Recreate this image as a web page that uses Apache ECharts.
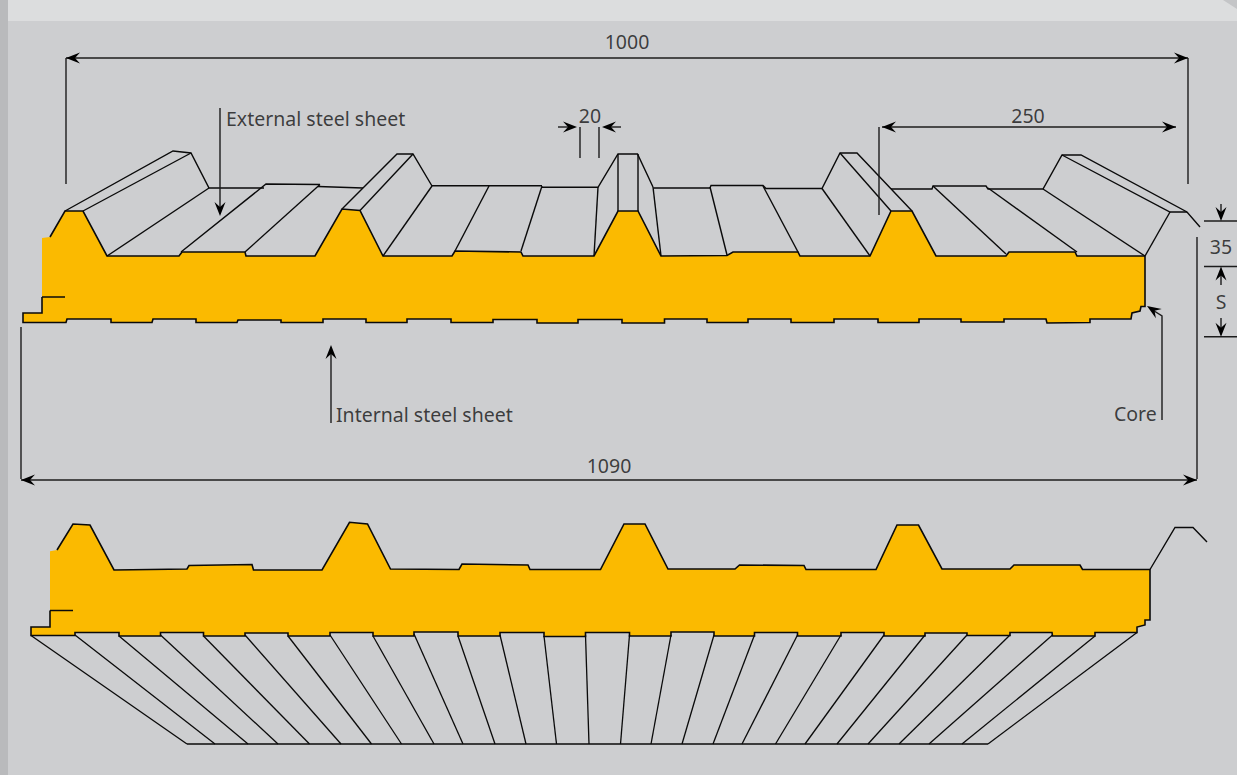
<!DOCTYPE html>
<html>
<head>
<meta charset="utf-8">
<style>html,body{margin:0;padding:0;background:#cdced0}#c{width:1237px;height:775px}</style>
<script src="https://cdn.jsdelivr.net/npm/echarts@6/dist/echarts.min.js"></script>
</head>
<body>
<div id="c"></div>
<script>
// ---- Upper panel: core section ----
const upperCoreTop = [[42,238],[50,237],[65,211],[83,211],[107,256],[179,256],[182,252],[245,252],[246,256],[315,256],[342,209],[360,210.5],[383,256],[452,256],[455,251],[521,252],[523,256],[594,256],[618,211],[638,211],[661,256],[727,255.5],[733,252],[798,252],[800,256],[870,256],[891,211],[912,211],[936,256],[1006,256],[1009,252],[1075,252],[1077,256],[1145,256]];
const upperCoreRight = [[1145,306.5],[1141,306.5],[1140,311],[1132,313],[1131,319]];
const upperCoreBottom = [[23,322.5],[66,322.5],[67,319],[111,319],[111,322.5],[152,322.5],[153,319],[196,319],[196,322.5],[237,322.5],[238,320],[281,320],[281,322.5],[323,322.5],[323,319],[366,319],[366,322.5],[407,322.5],[407,319],[451,319],[451,322.5],[493,322.5],[493,319.5],[537,319.5],[537,323],[578,323],[578,319.5],[622,319.5],[622,323],[664.5,323],[664.5,319],[707,319],[707,322.5],[748,322.5],[748,319],[791,319],[791,322.5],[834,322.5],[834,319],[878,319],[878,322.5],[919,322.5],[919,319],[961,319],[961,322],[1004,322],[1004,319],[1046,319],[1047,323],[1090,322.5],[1090,319],[1131,319]];
const upperCoreLeft = [[23,313],[42,313],[42,297]];

// ---- Upper panel: external sheet in perspective ----
const upperSheetLines = [
  [[65,211],[173,151],[191,153],[209,188],[264,188]],
  [[83,211],[191,153]],
  [[107,256],[209,188]],
  [[181,252],[266,184],[320,184.5]],
  [[245,252],[320,184.5]],
  [[318,186.5],[363,188]],
  [[342,209],[397,154],[413,154],[432,186]],
  [[360,210.5],[413,154]],
  [[383,256],[432,186]],
  [[432,185.7],[542,185.7]],
  [[542,187.3],[598,187.3],[618,154],[637.5,154],[653,187]],
  [[489,186],[455,251]],
  [[542,186],[521,251]],
  [[598,187.3],[594,256]],
  [[618,154],[618,211]],
  [[638,154],[638,211]],
  [[653,187],[661,256]],
  [[653.5,188],[710,188],[711,185.5],[763,185.5],[766,188.5],[822,188.5],[840,153],[857,153],[912,211]],
  [[840,153],[891,211]],
  [[822,188.5],[870,256]],
  [[710,187],[727,255]],
  [[763,186],[798,252]],
  [[891,189],[932,189],[933,186],[986,186],[988,189],[1043,189],[1062,155],[1081,155],[1187,212],[1200,227]],
  [[1062,155],[1170,212],[1187,212]],
  [[1170,212],[1145,256]],
  [[1043,189],[1145,256]],
  [[933,186],[1006,254]],
  [[988,188],[1077,252]]
];
const upperKeyLine = [[42,297],[65,297]];

// ---- Lower panel: core section ----
const lowerCoreTop = [[50,551.3],[57,550],[73,524],[90,525],[114,570],[187,569],[189,565.5],[252,564.5],[253.5,570],[322,570],[349.5,522.3],[367.5,524],[390.5,569],[459,569.5],[462,564],[528,565],[530,569.5],[600.5,569.5],[624,524],[645,524],[668,569],[735,569],[739.5,565],[804,565.5],[806,569.5],[876,569.5],[897,525],[918.5,525],[942,569],[1010,569],[1014,565],[1080,565],[1082.5,569.5],[1150,569.5]];
const lowerCoreRight = [[1150,620],[1145,620],[1145,625],[1137,627],[1137,632.5]];
const lowerCoreBottom = [[31,635.5],[75,635.5],[75,632.5],[119,632.5],[119,636],[160.5,636],[160.5,632.5],[203.5,632.5],[203.5,636],[245,636],[245,633],[288,633],[288,636],[330,636],[330,632.5],[373,632.5],[373,636],[414,636],[414,632],[458,632],[458,636],[500,636],[500,632.5],[544,632.5],[544,636.5],[585.5,636.5],[585.5,632.5],[629.5,632.5],[629.5,636],[671,636],[671,632],[714,632],[714,636],[754.5,636],[754.5,632.5],[797.5,632.5],[797.5,636],[841,636],[841,632.5],[884,632.5],[884,636],[925,636],[925,633],[967,633],[967,635.5],[1010,635.5],[1010,632.5],[1052,632.5],[1052.5,636],[1095,636],[1095,632.5],[1137,632.5]];
const lowerCoreLeft = [[31,627],[50,627],[50,610.5]];
const lowerKeyLine = [[50,610.5],[73,610.5]];
const lowerHook = [[1150,569.5],[1175,527.5],[1193,527.5],[1207,542]];

// ---- Lower panel: internal sheet fan ----
const fanTops = [31,75,119,160.5,203.5,245,288,330,373,414,458,500,544,585.5,629.5,671,714,754.5,797.5,841,884,925,967,1010,1052.5,1095,1137];
const fanTopY = [635.5,635,636,635,636,635,636,635,636,634,636,635,636,635,635,635,635,635,635,635,635,635,635,635,635,636,632.5];
const fanBottoms = [187,215,248,278,309.5,341,371.5,401.5,434,463,495,526,556.5,589,620.5,651,682,713,742,775.5,805,837,868,899,929,962,988];
const fanBottomY = 744;

// ---- Dimension lines ----
const dimLines = [
  [[66,58],[1188,58]],
  [[66,58],[66,184]],
  [[1188,58],[1188,184]],
  [[220,108],[220,212]],
  [[558,127],[570,127]],
  [[610,127],[621,127]],
  [[580,127],[580,158]],
  [[599,127],[599,158]],
  [[882,127],[1176,127]],
  [[879,127],[879,215]],
  [[1204,221],[1237,221]],
  [[1204,266.5],[1237,266.5]],
  [[1204,336.7],[1237,336.7]],
  [[1221,204],[1221,215]],
  [[1221,272],[1221,285]],
  [[1221,318],[1221,331]],
  [[1197,237],[1197,479]],
  [[21,327],[21,479]],
  [[21,480],[1197,480]],
  [[331,350],[331,423]],
  [[1162,420],[1162,316],[1151,309]]
];
// arrow heads: tip, then a point behind the tip giving the direction
const arrowHeads = [
  [[66,58],[80,58]],[[1188,58],[1174,58]],
  [[220,216],[220,205]],
  [[577,127],[565,127]],[[602,127],[614,127]],
  [[882,127],[896,127]],[[1176,127],[1162,127]],
  [[1221,221],[1221,210]],[[1221,266.5],[1221,278]],[[1221,336.7],[1221,325]],
  [[21,480],[35,480]],[[1197,480],[1183,480]],
  [[331,345],[331,358]],
  [[1147,306],[1158,313]]
];

// ---- Texts ----
const labelsCentered = [["1000",627,41],["20",590,115],["250",1028,115],["35",1221,246],["S",1221,301],["1090",609,465]];
const labelsLeft = [["External steel sheet",226,118],["Internal steel sheet",336,414],["Core",1114,413]];

const ink = '#0a0a0a';
const coreFill = '#fbba00';

function polyRender(points, fill){
  return function(params, api){
    return {type:'polygon', shape:{points:points.map(p=>api.coord(p))}, style:{fill:fill, stroke:'none'}, silent:true};
  };
}
function lineSeries(name, pts, width, color, z){
  return {type:'line', name:name, data:pts, showSymbol:false, symbol:'none', silent:true, animation:false, z:z||5,
    lineStyle:{width:width, color:color||ink, join:'miter', cap:'butt'}};
}
const upperPath = upperCoreTop.concat(upperCoreRight, upperCoreBottom.slice().reverse(), upperCoreLeft);
const lowerPath = lowerCoreTop.concat(lowerCoreRight, lowerCoreBottom.slice().reverse(), lowerCoreLeft);

const series = [];
series.push({type:'custom', name:'upper core', coordinateSystem:'cartesian2d', data:[[0,0]], silent:true, animation:false, z:2, renderItem:polyRender(upperPath, coreFill)});
series.push({type:'custom', name:'lower core', coordinateSystem:'cartesian2d', data:[[0,0]], silent:true, animation:false, z:2, renderItem:polyRender(lowerPath, coreFill)});
series.push(lineSeries('upper outline', upperPath.slice(1), 1.6));
series.push(lineSeries('lower outline', lowerPath.slice(1), 1.6));
series.push(lineSeries('upper key', upperKeyLine, 1.5));
series.push(lineSeries('lower key', lowerKeyLine, 1.5));
series.push(lineSeries('hook', lowerHook, 1.4));
upperSheetLines.forEach((l,i)=>series.push(lineSeries('sheet'+i, l, 1.4)));
fanTops.forEach((x,i)=>series.push(lineSeries('fan'+i, [[x,fanTopY[i]],[fanBottoms[i],fanBottomY]], 1.3)));
series.push(lineSeries('fan base', [[fanBottoms[0],fanBottomY],[fanBottoms[fanBottoms.length-1],fanBottomY]], 1.5));
dimLines.forEach((l,i)=>series.push(lineSeries('dim'+i, l, 1.4, '#1c1c1c')));
series.push({type:'custom', name:'arrows', coordinateSystem:'cartesian2d', data:arrowHeads.map((a,i)=>[i,0]), silent:true, animation:false, z:6,
  renderItem:function(params, api){
    const a = arrowHeads[params.dataIndex];
    const t = api.coord(a[0]), b = api.coord(a[1]);
    const L = Math.hypot(b[0]-t[0], b[1]-t[1]);
    const ux=(b[0]-t[0])/L, uy=(b[1]-t[1])/L, nx=-uy, ny=ux;
    const len=14, hw=5.5, notch=9;
    return {type:'polygon', shape:{points:[t,
      [t[0]+ux*len+nx*hw, t[1]+uy*len+ny*hw],
      [t[0]+ux*notch, t[1]+uy*notch],
      [t[0]+ux*len-nx*hw, t[1]+uy*len-ny*hw]]}, style:{fill:'#000'}, silent:true};
  }});
function textSeries(name, rows, align){
  return {type:'scatter', name:name, data:rows.map(r=>({value:[r[1],r[2]], name:r[0]})), symbolSize:0, silent:true, animation:false, z:8,
    label:{show:true, position:'inside', formatter:'{b}', color:'#141414', fontFamily:'"Noto Sans", "Open Sans", sans-serif', fontSize:19.5, align:align, verticalAlign:'middle'}};
}
series.push(textSeries('centered text', labelsCentered, 'center'));
series.push(textSeries('left text', labelsLeft, 'left'));

const chart = echarts.init(document.getElementById('c'), null, {renderer:'svg', width:1237, height:775});
chart.setOption({
  animation:false,
  backgroundColor:'#cdced0',
  grid:{left:0, right:0, top:0, bottom:0, containLabel:false},
  xAxis:{type:'value', min:0, max:1237, show:false},
  yAxis:{type:'value', min:0, max:775, inverse:true, show:false},
  graphic:[
    {type:'rect', z:-1, shape:{x:8,y:0,width:1229,height:21}, style:{fill:'#dcddde'}, silent:true},
    {type:'rect', z:-1, shape:{x:0,y:0,width:8,height:775}, style:{fill:'#b9babc'}, silent:true},
    {type:'polygon', z:-1, shape:{points:[[1223,0],[1237,0],[1237,9]]}, style:{fill:'#c4c5c7'}, silent:true}
  ],
  series:series
});
</script>
</body>
</html>
